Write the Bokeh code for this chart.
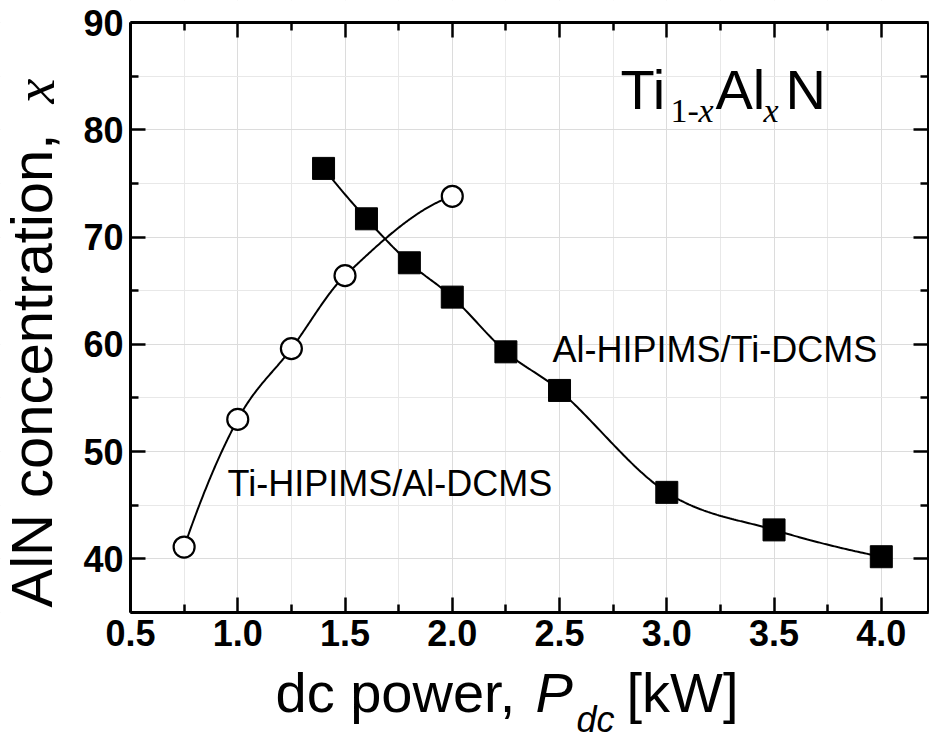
import numpy as np
from bokeh.plotting import figure
from bokeh.models import Range1d, LinearAxis, FixedTicker, Label, NumeralTickFormatter, BoxAnnotation
from bokeh.embed import file_html
from bokeh.resources import INLINE

# ---- data ----
ti_hipims_power = [0.75, 1.0, 1.25, 1.5, 2.0]
ti_hipims_aln = [41.1, 53.0, 59.6, 66.4, 73.8]

al_hipims_power = [1.4, 1.6, 1.8, 2.0, 2.25, 2.5, 3.0, 3.5, 4.0]
al_hipims_aln = [76.4, 71.7, 67.6, 64.4, 59.3, 55.7, 46.2, 42.7, 40.2]

x_major_ticks = [0.5, 1.0, 1.5, 2.0, 2.5, 3.0, 3.5, 4.0]
x_minor_ticks = [0.75, 1.25, 1.75, 2.25, 2.75, 3.25, 3.75]
y_major_ticks = [40, 50, 60, 70, 80, 90]
y_minor_ticks = [35, 45, 55, 65, 75, 85]

X_MIN, X_MAX = 0.5, 4.22      # plot box limits
Y_MIN, Y_MAX = 35, 90


def smooth_curve(xs, ys, n=300):
    """Cubic Hermite (Catmull-Rom type) line drawn through the data points."""
    xs = np.asarray(xs, float)
    ys = np.asarray(ys, float)
    k = len(xs)
    h = np.diff(xs)
    d = np.diff(ys) / h
    m = np.zeros(k)
    for i in range(1, k - 1):
        m[i] = (ys[i + 1] - ys[i - 1]) / (xs[i + 1] - xs[i - 1])
    m[0] = ((2 * h[0] + h[1]) * d[0] - h[0] * d[1]) / (h[0] + h[1])
    m[-1] = ((2 * h[-1] + h[-2]) * d[-1] - h[-1] * d[-2]) / (h[-1] + h[-2])
    xx = np.linspace(xs[0], xs[-1], n)
    idx = np.clip(np.searchsorted(xs, xx) - 1, 0, k - 2)
    hh = h[idx]
    t = (xx - xs[idx]) / hh
    h00 = 2 * t ** 3 - 3 * t ** 2 + 1
    h10 = t ** 3 - 2 * t ** 2 + t
    h01 = -2 * t ** 3 + 3 * t ** 2
    h11 = t ** 3 - t ** 2
    yy = h00 * ys[idx] + h10 * hh * m[idx] + h01 * ys[idx + 1] + h11 * hh * m[idx + 1]
    return xx, yy


# The frame fills the whole canvas; the plot box is drawn by axes at fixed locations,
# so that titles outside the box are not clipped.
p = figure(
    width=929, height=740,
    x_range=Range1d(-0.1060, 4.2247), y_range=Range1d(23.068, 92.051),
    output_backend="svg", toolbar_location=None,
    min_border_left=0, min_border_right=0, min_border_top=0, min_border_bottom=0,
    background_fill_color="white", border_fill_color="white",
    x_axis_location=None, y_axis_location=None,
)
p.outline_line_color = None

xt = FixedTicker(ticks=x_major_ticks, minor_ticks=x_minor_ticks)
yt = FixedTicker(ticks=y_major_ticks, minor_ticks=y_minor_ticks)


def make_axis(ticker, loc, bounds, show_labels):
    ax = LinearAxis(ticker=ticker, fixed_location=loc, bounds=bounds)
    ax.axis_line_width = 3
    ax.axis_line_color = "black"
    ax.major_tick_in = 15
    ax.major_tick_out = 0
    ax.minor_tick_in = 8
    ax.minor_tick_out = 0
    ax.major_tick_line_width = 2.5
    ax.minor_tick_line_width = 2.5
    if show_labels:
        ax.major_label_text_font = "Liberation Sans"
        ax.major_label_text_font_style = "bold"
        ax.major_label_text_font_size = "36px"
        ax.major_label_text_color = "black"
    else:
        ax.major_label_text_color = None
    return ax


ax_b = make_axis(xt, Y_MIN, (X_MIN, X_MAX), True)
ax_b.formatter = NumeralTickFormatter(format="0.0")
ax_b.major_label_standoff = 7
ax_l = make_axis(yt, X_MIN, (Y_MIN, Y_MAX), True)
ax_l.major_label_standoff = 7
ax_t = make_axis(xt, Y_MAX, (X_MIN, X_MAX), False)
ax_r = make_axis(yt, X_MAX, (Y_MIN, Y_MAX), False)

# grid
p.xgrid.ticker = xt
p.ygrid.ticker = yt
for g in (p.xgrid[0], p.ygrid[0]):
    g.grid_line_color = "#dcdcdc"
    g.grid_line_width = 1
    g.minor_grid_line_color = "#e8e8e8"
    g.minor_grid_line_width = 1

# white masks so that grid lines stay inside the plot box
for kw in (dict(right=X_MIN), dict(left=X_MAX), dict(top=Y_MIN), dict(bottom=Y_MAX)):
    p.add_layout(BoxAnnotation(fill_color="white", fill_alpha=1.0, line_alpha=0.0,
                               level="underlay", **kw))

p.add_layout(ax_b, "below")
p.add_layout(ax_l, "left")
p.add_layout(ax_t, "above")
p.add_layout(ax_r, "right")

# curves
cx, cy = smooth_curve(ti_hipims_power, ti_hipims_aln)
p.line(cx, cy, line_color="black", line_width=2)
sx, sy = smooth_curve(al_hipims_power, al_hipims_aln)
p.line(sx, sy, line_color="black", line_width=2)

p.scatter(al_hipims_power, al_hipims_aln, marker="square", size=22,
          fill_color="black", line_color="black", line_width=1)
p.scatter(ti_hipims_power, ti_hipims_aln, marker="circle", size=21,
          fill_color="white", line_color="black", line_width=2.2)


def lab(x, y, text, size, font="Liberation Sans", style="normal", angle=0.0):
    # x, y: pixels from the canvas' left / bottom edge
    p.add_layout(Label(x=x, y=y, x_units="screen", y_units="screen", text=text,
                       text_font=font, text_font_style=style, text_font_size=size,
                       text_color="black", text_align="left", text_baseline="alphabetic",
                       angle=angle))


# series labels
lab(552, 391, "Al-HIPIMS/Ti-DCMS", "36px")
lab(227, 257, "Ti-HIPIMS/Al-DCMS", "36px")

# formula Ti(1-x)Al(x)N
lab(620, 651, "Ti", "56px")
lab(670, 630, "1-", "34px", font="Liberation Serif")
lab(698, 630, "x", "34px", font="Liberation Serif", style="italic")
lab(715, 651, "Al", "56px")
lab(763, 630, "x", "34px", font="Liberation Serif", style="italic")
lab(785, 651, "N", "56px")

# x axis title
lab(275, 48, "dc power,", "56px")
lab(535, 48, "P", "56px", style="italic")
lab(576, 21, "dc", "36px", style="italic")
lab(626, 48, "[kW]", "56px")

# y axis title
lab(31, 133, "AlN concentration,", "58px", angle=np.pi / 2)
lab(34, 637, "x", "56px", font="Liberation Serif", style="italic", angle=np.pi / 2)

open("out.html", "w").write(file_html(p, INLINE))
